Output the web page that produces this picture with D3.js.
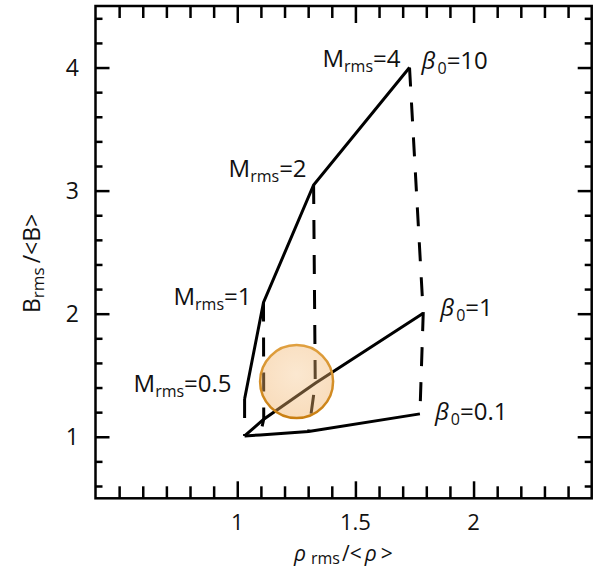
<!DOCTYPE html>
<html>
<head>
<meta charset="utf-8">
<script src="https://cdn.jsdelivr.net/npm/d3@7"></script>
<style>
  html, body { margin: 0; padding: 0; background: #fff; }
  svg { display: block; font-family: "Open Sans", "Noto Sans", sans-serif; }
</style>
</head>
<body>
<svg id="chart" width="600" height="571"></svg>
<script>
// Mach numbers (dashed curves) and initial plasma beta (solid curves)
const machNumbers = [0.5, 1, 2, 4];
const betaValues = [10, 1, 0.1];

// rho_rms/<rho> and B_rms/<B> for each Mach number, one pair of arrays per beta
const rhoBeta10 = [1.031, 1.111, 1.323, 1.729];
const bBeta10   = [1.307, 2.091, 3.046, 4.000];
const rhoBeta1  = [1.031, 1.112, 1.330, 1.787];
const bBeta1    = [1.007, 1.143, 1.435, 2.004];
const rhoBeta01 = [1.031, 1.097, 1.302, 1.773];
const bBeta01   = [1.007, 1.015, 1.042, 1.186];

// highlighted region
const markerRho = [1.251];
const markerB = [1.448];

// axis ticks
const xTickLabels = [1, 1.5, 2];
const yTickLabels = [1, 2, 3, 4];

const svg = d3.select("#chart");
const m = { left: 95.5, top: 6, right: 8.3, bottom: 72.7 };
const W = 600 - m.left - m.right, H = 571 - m.top - m.bottom;

const x = d3.scaleLinear().domain([0.4, 2.5]).range([m.left, m.left + W]);
const y = d3.scaleLinear().domain([0.5, 4.5]).range([m.top + H, m.top]);

const betaSeries = [
  { beta: betaValues[0], rho: rhoBeta10, b: bBeta10 },
  { beta: betaValues[1], rho: rhoBeta1,  b: bBeta1 },
  { beta: betaValues[2], rho: rhoBeta01, b: bBeta01 }
];
const line = d3.line().x(d => x(d[0])).y(d => y(d[1]));

// solid curves: constant beta, increasing Mach number
svg.append("g").selectAll("path").data(betaSeries).join("path")
  .attr("d", s => line(s.rho.map((r, i) => [r, s.b[i]])))
  .attr("fill", "none").attr("stroke", "#000").attr("stroke-width", 3)
  .attr("stroke-linejoin", "miter");

// dashed curves: constant Mach number across beta
svg.append("g").selectAll("path").data(machNumbers).join("path")
  .attr("d", (mn, i) => line(betaSeries.map(s => [s.rho[i], s.b[i]])))
  .attr("fill", "none").attr("stroke", "#000").attr("stroke-width", 3)
  .attr("stroke-dasharray", "19,16");

// frame with inward ticks on all sides
const xMinor = d3.range(5, 25).map(v => v / 10).filter(v => !xTickLabels.includes(v));
const yMinor = d3.range(3, 23).map(v => v / 5).filter(v => !yTickLabels.includes(v));

function tickAxis(axisFn, scale, ticks, size, tf) {
  const g = svg.append("g").attr("transform", tf)
    .call(axisFn(scale).tickValues(ticks).tickSize(-size).tickFormat(""));
  g.select(".domain").remove();
  g.selectAll("line").attr("stroke", "#000").attr("stroke-width", 2.5);
  return g;
}
tickAxis(d3.axisBottom, x, xMinor, 12, `translate(0,${m.top + H})`);
tickAxis(d3.axisBottom, x, xTickLabels, 17, `translate(0,${m.top + H})`);
tickAxis(d3.axisTop, x, xMinor, 12, `translate(0,${m.top})`);
tickAxis(d3.axisTop, x, xTickLabels, 17, `translate(0,${m.top})`);
tickAxis(d3.axisLeft, y, yMinor, 7, `translate(${m.left},0)`);
tickAxis(d3.axisLeft, y, yTickLabels, 14, `translate(${m.left},0)`);
tickAxis(d3.axisRight, y, yMinor, 7, `translate(${m.left + W},0)`);
tickAxis(d3.axisRight, y, yTickLabels, 14, `translate(${m.left + W},0)`);

svg.append("rect").attr("x", m.left).attr("y", m.top).attr("width", W).attr("height", H)
  .attr("fill", "none").attr("stroke", "#000").attr("stroke-width", 2.5);

// tick labels
svg.append("g").selectAll("text").data(xTickLabels).join("text")
  .attr("x", d => x(d)).attr("y", 530).attr("text-anchor", "middle")
  .attr("font-size", 22).attr("fill", "#111").text(d => d);
svg.append("g").selectAll("text").data(yTickLabels).join("text")
  .attr("x", 79).attr("y", d => y(d) + 8).attr("text-anchor", "end")
  .attr("font-size", 23).attr("fill", "#111").text(d => d);

// axis titles
const xt = svg.append("text").attr("x", 294).attr("y", 561).attr("font-size", 21).attr("fill", "#111");
xt.append("tspan").attr("font-style", "italic").text("ρ");
xt.append("tspan").attr("font-size", 16).attr("dx", 5).attr("dy", 3).text("rms");
xt.append("tspan").attr("dx", 2).attr("dy", -3).text("/<");
xt.append("tspan").attr("font-style", "italic").attr("dx", 3).text("ρ");
xt.append("tspan").attr("dx", 4).text(">");

const yt = svg.append("text").attr("transform", "translate(40,313) rotate(-90)")
  .attr("font-size", 23).attr("fill", "#111");
yt.append("tspan").text("B");
yt.append("tspan").attr("font-size", 17).attr("dy", 4).text("rms");
yt.append("tspan").attr("dx", 4).attr("dy", -4).text("/<B>");

// curve labels
function subLabel(px, py, anchor, main, sub, rest, italic) {
  const t = svg.append("text").attr("x", px).attr("y", py).attr("text-anchor", anchor)
    .attr("font-size", 24).attr("fill", "#111");
  t.append("tspan").attr("font-style", italic ? "italic" : null).text(main);
  t.append("tspan").attr("font-size", 16).attr("dy", 5).attr("dx", italic ? 2 : 0).text(sub);
  t.append("tspan").attr("dy", -5).text(rest);
}
const machOffsets = [[-13, -7], [-12, 2.5], [-7, -8], [-9, -1]];
machNumbers.forEach((mn, i) => {
  const [dx, dy] = machOffsets[i];
  subLabel(x(rhoBeta10[i]) + dx, y(bBeta10[i]) + dy, "end", "M", "rms", "=" + mn, false);
});
const betaOffsets = [[12, 1], [17, 3], [15, 6]];
betaSeries.forEach((s, i) => {
  const [dx, dy] = betaOffsets[i];
  const last = s.rho.length - 1;
  subLabel(x(s.rho[last]) + dx, y(s.b[last]) + dy, "start", "β", "0", "=" + s.beta, true);
});

// translucent highlight marker drawn over the curves
const defs = svg.append("defs");
const grad = defs.append("radialGradient").attr("id", "markerFill")
  .attr("cx", "50%").attr("cy", "40%").attr("r", "60%");
grad.append("stop").attr("offset", "0%").attr("stop-color", "rgb(244,190,125)").attr("stop-opacity", 0.36);
grad.append("stop").attr("offset", "100%").attr("stop-color", "rgb(240,175,100)").attr("stop-opacity", 0.44);

const ringGrad = defs.append("linearGradient").attr("id", "markerRing")
  .attr("x1", 0).attr("y1", 0).attr("x2", 0).attr("y2", 1);
ringGrad.append("stop").attr("offset", "0%").attr("stop-color", "#e0a040");
ringGrad.append("stop").attr("offset", "100%").attr("stop-color", "#c97f12");

svg.append("g").selectAll("circle").data(markerRho).join("circle")
  .attr("cx", d => x(d)).attr("cy", (d, i) => y(markerB[i])).attr("r", 36.5)
  .attr("fill", "url(#markerFill)").attr("stroke", "url(#markerRing)").attr("stroke-width", 2.5);
</script>
</body>
</html>
